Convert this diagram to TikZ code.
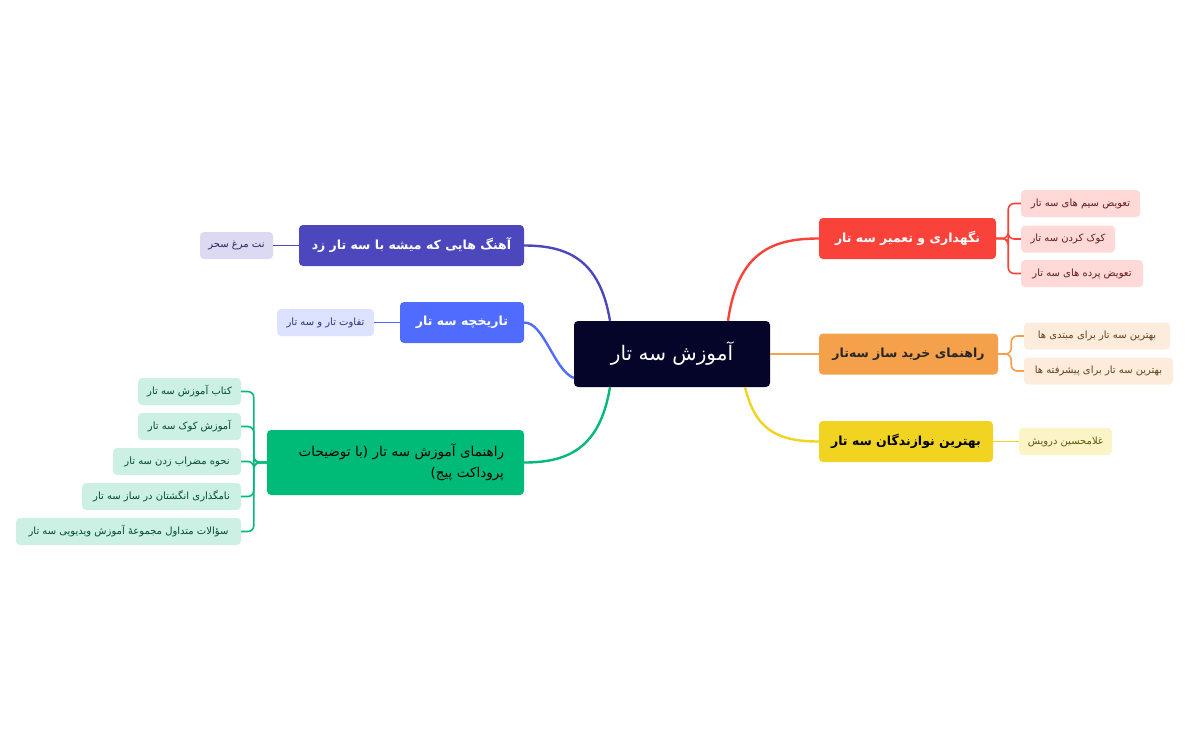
\documentclass[tikz,border=0pt]{standalone}
\usepackage{fontspec}
\newfontfamily\arabicfont[Script=Arabic]{DejaVu Sans}
\TeXXeTstate=1
\definecolor{rootc}{HTML}{05052A}
\definecolor{redc}{HTML}{F9423A}
\definecolor{orangec}{HTML}{F5A04B}
\definecolor{yellowc}{HTML}{F0D421}
\definecolor{purplec}{HTML}{4C47BD}
\definecolor{bluec}{HTML}{4F6CFF}
\definecolor{greenc}{HTML}{00BB77}
\begin{document}
\begin{tikzpicture}[x=1pt,y=-1pt,
  box/.style={rectangle,rounded corners=4pt,inner sep=0pt,font=\arabicfont},
  topic/.style={box,font=\arabicfont\fontsize{12.5}{17}\selectfont\bfseries,minimum height=41pt},
  leaf/.style={box,font=\arabicfont\fontsize{10}{12}\selectfont,minimum height=27pt},
  link/.style={line width=2.4pt},
  sublink/.style={line width=1.6pt,rounded corners=6pt}]
\useasboundingbox (0,0) rectangle (1190,737);

%central topic
\node[box,fill=rootc,text=white,minimum width=196pt,minimum height=66pt,font=\arabicfont\fontsize{20}{24}\selectfont] (root) at (672,354) {\beginR آموزش سه تار\endR};

%main topics, right side
\node[topic,fill=redc,text=white,minimum width=177pt] (care) at (907.5,238.5) {\beginR نگهداری و تعمیر سه تار\endR};
\node[topic,fill=orangec,text=black!85,minimum width=179pt] (buy) at (908.5,354) {\beginR راهنمای خرید ساز سه‌تار\endR};
\node[topic,fill=yellowc,text=black,minimum width=174pt] (best) at (906,441.5) {\beginR بهترین نوازندگان سه تار\endR};

%main topics, left side
\node[topic,fill=purplec,text=white,minimum width=225pt] (songs) at (411.5,245.5) {\beginR آهنگ هایی که میشه با سه تار زد\endR};
\node[topic,fill=bluec,text=white,minimum width=124pt] (hist) at (462,322.5) {\beginR تاریخچه سه تار\endR};
\node[topic,fill=greenc,text=black,minimum width=257pt,minimum height=65pt,align=right,text width=217pt,font=\arabicfont\fontsize{13.5}{21}\selectfont] (guide) at (395.5,462.5) {\beginR راهنمای آموزش سه تار  (با توضیحات\endR\\\beginR پروداکت پیج)\endR};

%sub topics
\node[leaf,fill=redc!20,text=redc!40!black,minimum width=119pt] (c1) at (1080.5,203.5) {\beginR تعویض سیم های سه تار\endR};
\node[leaf,fill=redc!20,text=redc!40!black,minimum width=94pt] (c2) at (1068,239) {\beginR کوک کردن سه تار\endR};
\node[leaf,fill=redc!20,text=redc!40!black,minimum width=122pt] (c3) at (1082,273.5) {\beginR تعویض پرده های سه تار\endR};
\node[leaf,fill=orangec!20,text=orangec!40!black,minimum width=146pt] (b1) at (1097,336) {\beginR بهترین سه تار برای مبتدی ها\endR};
\node[leaf,fill=orangec!20,text=orangec!40!black,minimum width=149pt] (b2) at (1098.5,371) {\beginR بهترین سه تار برای پیشرفته ها\endR};
\node[leaf,fill=yellowc!25,text=yellowc!40!black,minimum width=93pt] (p1) at (1065.5,441.5) {\beginR غلامحسین درویش\endR};
\node[leaf,fill=purplec!20,text=purplec!50!black,minimum width=73pt] (s1) at (236.5,245.5) {\beginR نت مرغ سحر\endR};
\node[leaf,fill=bluec!20,text=bluec!50!black,minimum width=97pt] (h1) at (325.5,322.5) {\beginR تفاوت تار و سه تار\endR};
\node[leaf,fill=greenc!20,text=greenc!40!black,minimum width=103pt] (g1) at (189.5,391.5) {\beginR کتاب آموزش سه تار\endR};
\node[leaf,fill=greenc!20,text=greenc!40!black,minimum width=103pt] (g2) at (189.5,426.5) {\beginR آموزش کوک سه تار\endR};
\node[leaf,fill=greenc!20,text=greenc!40!black,minimum width=128pt] (g3) at (177,461.5) {\beginR نحوه مضراب زدن سه تار\endR};
\node[leaf,fill=greenc!20,text=greenc!40!black,minimum width=159pt] (g4) at (161.5,496.5) {\beginR نامگذاری انگشتان در ساز سه تار\endR};
\node[leaf,fill=greenc!20,text=greenc!40!black,minimum width=225pt] (g5) at (128.5,531.5) {\beginR سؤالات متداول مجموعهٔ آموزش ویدیویی سه تار\endR};

%branches from the centre
\draw[link,redc] ([xshift=56pt]root.north) .. controls +(10,-70) and +(-45,0) .. (care.west);
\draw[link,orangec] (root.east) -- (buy.west);
\draw[link,yellowc] ([xshift=73pt]root.south) .. controls +(10,40) and +(-45,0) .. (best.west);
\draw[link,purplec] ([xshift=-62pt]root.north) .. controls +(-10,-60) and +(45,0) .. (songs.east);
\draw[link,bluec] ([yshift=-24pt]root.west) .. controls +(-20,-8) and +(20,0) .. (hist.east);
\draw[link,greenc] ([xshift=-62pt]root.south) .. controls +(-10,60) and +(45,0) .. (guide.east);

%branches to the sub topics
\foreach \c in {c1,c2,c3}
  \draw[redc,sublink] (care.east) -- ++(12,0) |- (\c.west);
\foreach \c in {b1,b2}
  \draw[orangec,sublink] (buy.east) -- ++(13,0) |- (\c.west);
\draw[yellowc,sublink] (best.east) -- (p1.west);
\draw[purplec,sublink] (songs.west) -- (s1.east);
\draw[bluec,sublink] (hist.west) -- (h1.east);
\foreach \c in {g1,g2,g3,g4,g5}
  \draw[greenc,sublink] (guide.west) -- ++(-13,0) |- (\c.east);
\end{tikzpicture}
\end{document}
